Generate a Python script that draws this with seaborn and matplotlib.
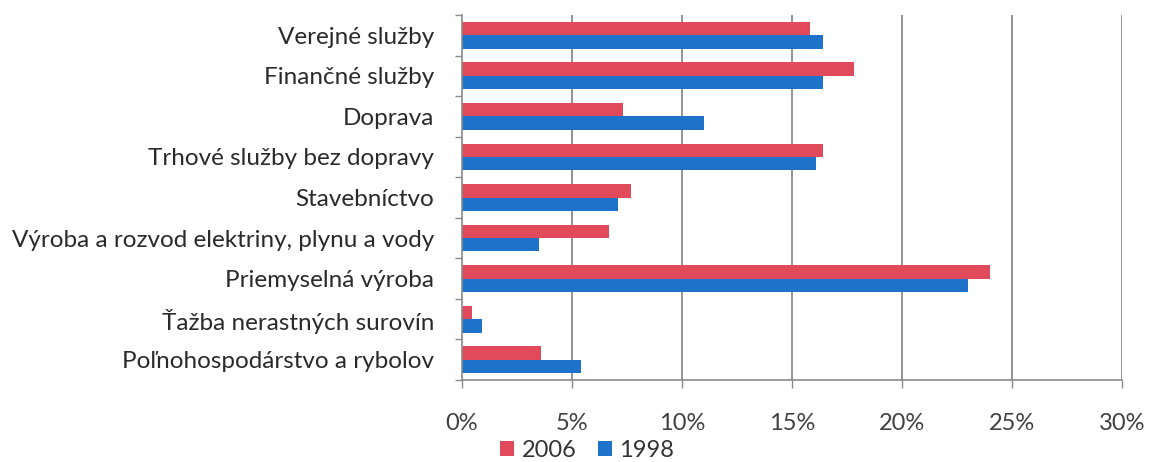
import matplotlib
matplotlib.use("Agg")
import matplotlib.pyplot as plt
import seaborn as sns
import pandas as pd
import numpy as np
from matplotlib.ticker import FuncFormatter, FixedLocator

categories = [
    "Verejné služby",
    "Finančné služby",
    "Doprava",
    "Trhové služby bez dopravy",
    "Stavebníctvo",
    "Výroba a rozvod elektriny, plynu a vody",
    "Priemyselná výroba",
    "Ťažba nerastných surovín",
    "Poľnohospodárstvo a rybolov",
]
values_2006 = [15.8, 17.8, 7.3, 16.4, 7.7, 6.7, 24.0, 0.45, 3.6]
values_1998 = [16.4, 16.4, 11.0, 16.1, 7.1, 3.5, 23.0, 0.9, 5.4]
series = ["2006", "1998"]
x_ticks = [0, 5, 10, 15, 20, 25, 30]

df = pd.DataFrame({
    "category": categories * 2,
    "value": values_2006 + values_1998,
    "year": ["2006"] * len(categories) + ["1998"] * len(categories),
})

sns.set_style("white")
plt.rcParams["font.family"] = ["Lato", "DejaVu Sans"]

fig = plt.figure(figsize=(11.5, 4.62), dpi=100)
ax = fig.add_axes([0.4017, 0.1775, 0.574, 0.79])

palette = {"2006": "#E04A5B", "1998": "#1E72C9"}
sns.barplot(data=df, y="category", x="value", hue="year", hue_order=series,
            order=categories, orient="h", palette=palette, width=0.66,
            saturation=1, linewidth=0, ax=ax, legend=True)

ax.set_xlim(0, 30)
ax.set_ylim(len(categories) - 0.5, -0.5)
for x in x_ticks[1:]:
    ax.axvline(x, color="#8a8a8a", lw=1.3, zorder=0)
ax.set_axisbelow(True)

ax.xaxis.set_major_locator(FixedLocator(x_ticks))
ax.xaxis.set_major_formatter(FuncFormatter(lambda v, p: f"{v:.0f}%"))
ax.tick_params(axis="x", direction="out", length=6, width=1, color="#8a8a8a",
               labelsize=17, labelcolor="#404040", pad=18, bottom=True)
ax.tick_params(axis="y", which="major", length=0, labelsize=17.5,
               labelcolor="#2a2a2a", pad=20)
ax.set_yticks(np.arange(-0.5, len(categories) + 0.5, 1), minor=True)
ax.tick_params(axis="y", which="minor", direction="out", length=5, width=1,
               color="#8a8a8a", left=True)
ax.set_xlabel("")
ax.set_ylabel("")

for s in ["top", "right"]:
    ax.spines[s].set_visible(False)
for s in ["left", "bottom"]:
    ax.spines[s].set_color("#8a8a8a")
    ax.spines[s].set_linewidth(1.2)

leg = ax.legend(loc="upper left", bbox_to_anchor=(0.058, -0.165), ncol=2,
                frameon=False, fontsize=17, handlelength=0.6, handleheight=0.6,
                handletextpad=0.3, columnspacing=0.9, labelcolor="#333333",
                borderpad=0, borderaxespad=0)

fig.savefig("out.png", dpi=100)
